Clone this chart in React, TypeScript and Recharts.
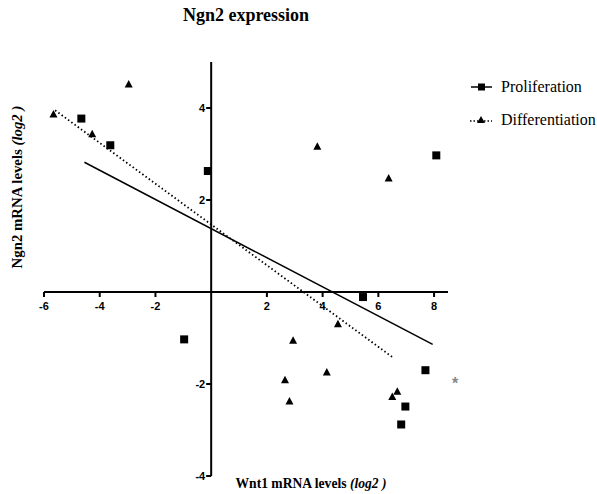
import React from 'react';
import {
  ComposedChart, Scatter, Line, XAxis, YAxis, ZAxis, ReferenceLine, ReferenceDot,
} from 'recharts';

// Ngn2 vs Wnt1 (log2) per sample
const proliferation = [
  { x: -4.66, y: 3.77 },
  { x: -3.62, y: 3.19 },
  { x: -0.12, y: 2.63 },
  { x: 8.08, y: 2.97 },
  { x: 5.45, y: -0.11 },
  { x: -0.97, y: -1.03 },
  { x: 7.69, y: -1.7 },
  { x: 6.97, y: -2.49 },
  { x: 6.82, y: -2.88 },
];

const differentiation = [
  { x: -5.66, y: 3.86 },
  { x: -4.27, y: 3.43 },
  { x: -2.96, y: 4.51 },
  { x: 3.81, y: 3.16 },
  { x: 6.37, y: 2.47 },
  { x: 4.55, y: -0.7 },
  { x: 2.94, y: -1.06 },
  { x: 4.15, y: -1.75 },
  { x: 2.65, y: -1.92 },
  { x: 2.81, y: -2.38 },
  { x: 6.68, y: -2.17 },
  { x: 6.5, y: -2.28 },
];

// linear fits, drawn over the x range of each group
const prolifFit = [
  { x: -4.55, y: 2.82 },
  { x: 7.95, y: -1.14 },
];
const diffFit = [
  { x: -5.6, y: 3.95 },
  { x: 6.56, y: -1.44 },
];

const xTicks = [-6, -4, -2, 2, 4, 6, 8];
const yTicks = [-4, -2, 2, 4];

const serif = 'Liberation Serif, Times New Roman, serif';
const tickFont = { fontFamily: 'Liberation Sans, Arial, sans-serif', fontWeight: 700, fontSize: 11 };

const Square = (props: any) => {
  const { cx, cy } = props;
  return <rect x={cx - 4} y={cy - 4} width={8} height={8} fill="#000" />;
};

const Triangle = (props: any) => {
  const { cx, cy } = props;
  return <polygon points={`${cx},${cy - 4.5} ${cx + 4},${cy + 3} ${cx - 4},${cy + 3}`} fill="#000" />;
};

const XTick = (value: number) => (props: any) => {
  const { cx, cy } = props;
  return (
    <g>
      <line x1={cx} y1={cy} x2={cx} y2={cy + 5} stroke="#000" strokeWidth={2} />
      <text x={cx} y={cy + 18} textAnchor="middle" {...tickFont}>{value}</text>
    </g>
  );
};

const YTick = (value: number) => (props: any) => {
  const { cx, cy } = props;
  return (
    <g>
      <line x1={cx - 5} y1={cy} x2={cx} y2={cy} stroke="#000" strokeWidth={2} />
      <text x={cx - 6} y={cy + 4} textAnchor="end" {...tickFont}>{value}</text>
    </g>
  );
};

const LegendBox = () => (
  <div style={{ position: 'absolute', left: 469, top: 71, fontFamily: serif, fontSize: 16 }}>
    <div style={{ display: 'flex', alignItems: 'center', height: 32 }}>
      <svg width={26} height={10}>
        <line x1={2} y1={5} x2={23} y2={5} stroke="#000" strokeWidth={1.5} />
        <rect x={9} y={1.5} width={7} height={7} fill="#000" />
      </svg>
      <span style={{ marginLeft: 6 }}>Proliferation</span>
    </div>
    <div style={{ display: 'flex', alignItems: 'center', height: 34 }}>
      <svg width={26} height={10}>
        <line x1={1} y1={6} x2={23} y2={6} stroke="#000" strokeWidth={1.5} strokeDasharray="1.5 2" />
        <polygon points="12,1 16,8 8,8" fill="#000" />
      </svg>
      <span style={{ marginLeft: 6 }}>Differentiation</span>
    </div>
  </div>
);

export default function App() {
  return (
    <div style={{ position: 'absolute', left: 0, top: 0, width: 597, height: 494, background: '#fff' }}>
      <div style={{
        position: 'absolute', left: 246, top: 15, transform: 'translate(-50%, -50%)', whiteSpace: 'nowrap',
        fontFamily: serif, fontWeight: 700, fontSize: 18,
      }}>
        Ngn2 expression
      </div>
      <ComposedChart
        width={597}
        height={494}
        margin={{ top: 62, left: 44, right: 149, bottom: 18 }}
      >
        <XAxis type="number" dataKey="x" domain={[-6, 8.5]} hide allowDataOverflow />
        <YAxis type="number" dataKey="y" domain={[-4, 5]} hide allowDataOverflow />
        <ZAxis range={[64, 64]} />
        <ReferenceLine x={0} stroke="#000" strokeWidth={2} />
        <ReferenceLine y={0} stroke="#000" strokeWidth={2} />
        {xTicks.map((t) => (
          <ReferenceDot key={`xt${t}`} x={t} y={0} ifOverflow="visible" shape={XTick(t)} />
        ))}
        {yTicks.map((t) => (
          <ReferenceDot key={`yt${t}`} x={0} y={t} ifOverflow="visible" shape={YTick(t)} />
        ))}
        <Line data={prolifFit} dataKey="y" stroke="#000" strokeWidth={1.5} dot={false}
          isAnimationActive={false} legendType="none" />
        <Line data={diffFit} dataKey="y" stroke="#000" strokeWidth={1.8} strokeDasharray="1.5 2.5"
          dot={false} isAnimationActive={false} legendType="none" />
        <Scatter name="Proliferation" data={proliferation} shape={Square} isAnimationActive={false} />
        <Scatter name="Differentiation" data={differentiation} shape={Triangle} isAnimationActive={false} />
      </ComposedChart>
      <LegendBox />
      <div style={{
        position: 'absolute', left: 17, top: 187, transform: 'translate(-50%, -50%) rotate(-90deg)',
        whiteSpace: 'nowrap', fontFamily: serif, fontWeight: 700, fontSize: 14.8,
      }}>
        Ngn2 mRNA levels <i>(log2 )</i>
      </div>
      <div style={{
        position: 'absolute', left: 311, top: 484, transform: 'translate(-50%, -50%)',
        whiteSpace: 'nowrap', fontFamily: serif, fontWeight: 700, fontSize: 13.6,
      }}>
        Wnt1 mRNA levels <i>(log2 )</i>
      </div>
      <div style={{
        position: 'absolute', left: 455, top: 384, transform: 'translate(-50%, -50%)',
        color: '#888', fontFamily: 'Liberation Sans, Arial, sans-serif', fontSize: 16, fontWeight: 700,
      }}>
        *
      </div>
    </div>
  );
}
